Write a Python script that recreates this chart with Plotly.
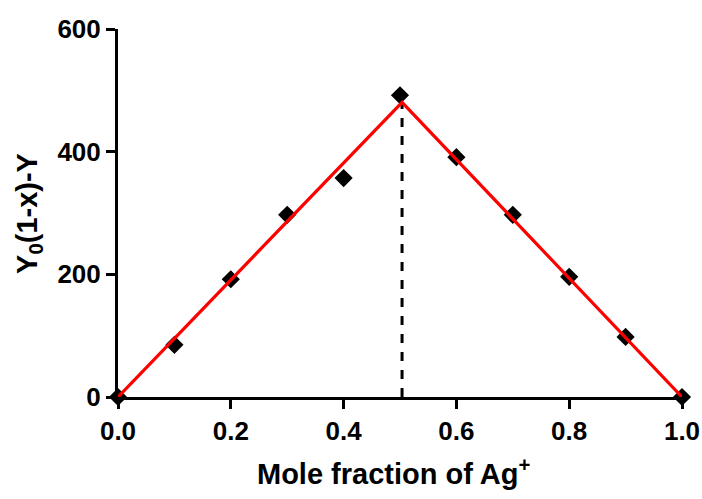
import plotly.graph_objects as go

mole_fraction = [0.0, 0.1, 0.2, 0.3, 0.4, 0.5, 0.6, 0.7, 0.8, 0.9, 1.0]
y_values = [0, 85, 192, 297, 357, 492, 391, 297, 196, 98, 0]

# fitted line slopes (left rising branch through origin, right falling branch through x=1)
slope_left = 954
slope_right = 968

x_int = slope_right / (slope_left + slope_right)
y_int = slope_left * x_int

x_ticks = [0.0, 0.2, 0.4, 0.6, 0.8, 1.0]
x_tick_labels = ["0.0", "0.2", "0.4", "0.6", "0.8", "1.0"]
y_ticks = [0, 200, 400, 600]

fig = go.Figure()

fig.add_trace(go.Scatter(
    x=[x_int, x_int], y=[0, y_int], mode="lines",
    line=dict(color="black", width=3, dash="dash"), cliponaxis=False, showlegend=False))

fig.add_trace(go.Scatter(
    x=mole_fraction, y=y_values, mode="markers",
    marker=dict(symbol="diamond", size=14, color="black"),
    cliponaxis=False, showlegend=False))

fig.add_trace(go.Scatter(
    x=[0, x_int, 1.0], y=[0, y_int, slope_right * (1 - 1.0)], mode="lines",
    line=dict(color="red", width=3.2), cliponaxis=False, showlegend=False))

font_family = "Liberation Sans, Arial, sans-serif"

fig.update_layout(
    width=702, height=499,
    margin=dict(l=118, r=20, t=29, b=102),
    paper_bgcolor="white", plot_bgcolor="white",
    font=dict(family=font_family, color="black"),
    xaxis=dict(
        range=[0, 1.0], tickvals=x_ticks, ticktext=["<b>%s</b>" % t for t in x_tick_labels],
        ticks="outside", ticklen=9, tickwidth=3, tickcolor="black",
        showline=True, linewidth=3, linecolor="black", showgrid=False, zeroline=False,
        tickfont=dict(size=26), automargin=False,
    ),
    yaxis=dict(
        range=[0, 600], tickvals=y_ticks, ticktext=["<b>%d</b>" % t for t in y_ticks],
        ticks="outside", ticklen=9, tickwidth=3, tickcolor="black",
        showline=True, linewidth=3, linecolor="black", showgrid=False, zeroline=False,
        tickfont=dict(size=26), automargin=False,
    ),
    annotations=[
        dict(text="<b>Mole fraction of Ag<sup>+</sup></b>", xref="paper", yref="paper",
             x=0.49, y=-0.205, xanchor="center", yanchor="middle", showarrow=False,
             font=dict(size=29)),
        dict(text="<b>Y<sub>0</sub>(1-x)-Y</b>", xref="paper", yref="paper",
             x=-0.158, y=0.5, xanchor="center", yanchor="middle", showarrow=False,
             textangle=-90, font=dict(size=29)),
    ],
)

fig.write_html("out.html")
